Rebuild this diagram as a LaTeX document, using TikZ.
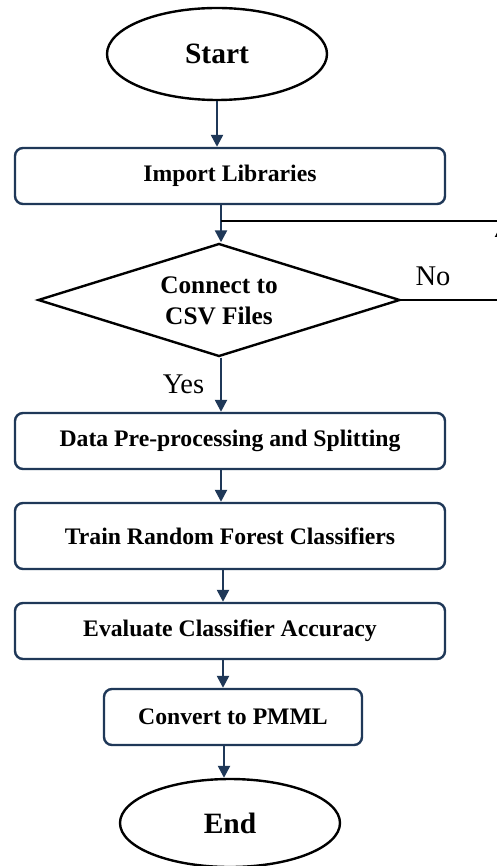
\documentclass[tikz,border=0pt]{standalone}
\usepackage{fontspec}
\setmainfont{Liberation Serif}
\usetikzlibrary{shapes.geometric,arrows.meta}
\definecolor{navy}{RGB}{31,56,88}
\begin{document}
\begin{tikzpicture}[x=1pt,y=-1pt,
  proc/.style={draw=navy,line width=2.4pt,rounded corners=8pt,minimum height=56pt,inner sep=0pt,font=\fontsize{23.7}{28}\selectfont\bfseries},
  term/.style={draw=black,line width=2.4pt,ellipse,inner sep=0pt,font=\fontsize{29.5}{34}\selectfont\bfseries},
  dec/.style={draw=black,line width=2.4pt,diamond,inner sep=0pt},
  dectext/.style={align=center,font=\fontsize{25.3}{31}\selectfont\bfseries},
  flow/.style={draw=navy,line width=2.4pt,-{Triangle[width=12pt,length=12pt]}},
  loopl/.style={draw=black,line width=2pt},
  lab/.style={font=\fontsize{28.5}{34}\selectfont,anchor=base}]
\useasboundingbox (0,0) rectangle (496,866);
\fill[white] (0,0) rectangle (496,866);

\node[term,minimum width=220pt,minimum height=92pt] (start) at (217,54) {Start};
\node[proc,minimum width=430pt] (imp) at (230,176) {Import Libraries};
\node[dec,minimum width=362pt,minimum height=113pt] (dia) at (219,300) {};
\node[dectext] (diat) at (219,301) {Connect to\\CSV Files};
\node[proc,minimum width=430pt] (data) at (230,441) {Data Pre-processing and Splitting};
\node[proc,minimum width=430pt,minimum height=66pt] (train) at (230,536) {Train Random Forest Classifiers};
\node[proc,minimum width=430pt] (eval) at (230,631) {Evaluate Classifier Accuracy};
\node[proc,minimum width=258pt] (conv) at (233,717) {Convert to PMML};
\node[term,minimum width=220pt,minimum height=88pt] (end) at (230,823) {End};

\node[lab] (no) at (433,285) {No};
\node[lab] (yes) at (183.5,393) {Yes};

\coordinate (colA) at (221,0);
\coordinate (colB) at (223,0);
\coordinate (rtop) at (501,221);
\coordinate (rbot) at (501,300);
\coordinate (rtip) at (501,225);

\draw[flow] (start.south) -- (start.south |- imp.north);
\draw[flow] (colA |- imp.south) -- (colA |- dia.north);
\draw[flow] (colA |- dia.south) -- (colA |- data.north);
\draw[flow] (colA |- data.south) -- (colA |- train.north);
\draw[flow] (colB |- train.south) -- (colB |- eval.north);
\draw[flow] (colB |- eval.south) -- (colB |- conv.north);
\draw[flow] (224,0 |- conv.south) -- (224,0 |- end.north);

\draw[loopl] (dia.east) -- (rbot);
\draw[loopl,-{Triangle[width=12pt,length=12pt]}] (rbot) -- (rtip);
\draw[loopl] (rtop) -- (colA |- rtop);
\end{tikzpicture}
\end{document}
